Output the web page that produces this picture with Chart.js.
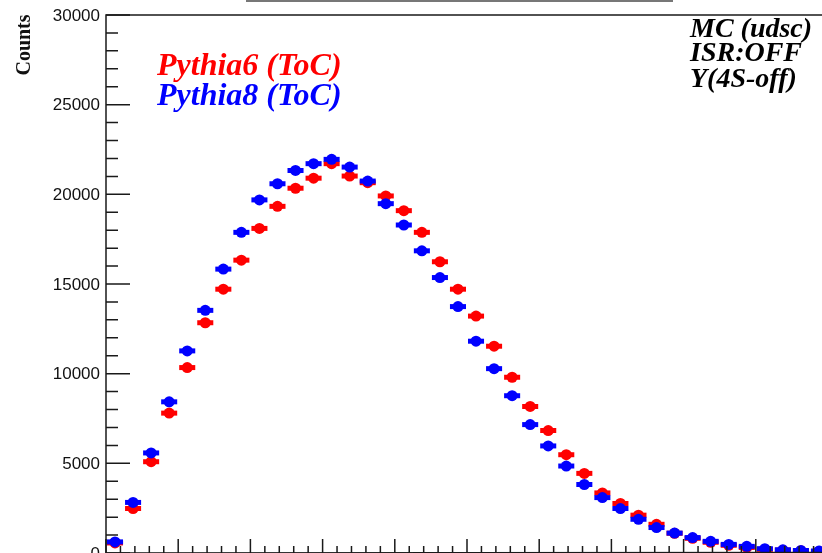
<!DOCTYPE html>
<html>
<head>
<meta charset="utf-8">
<script src="https://cdn.jsdelivr.net/npm/chart.js@4.4.0/dist/chart.umd.min.js"></script>
<style>
  body { margin: 0; background: #fff; }
  #wrap { position: relative; width: 822px; height: 553px; }
</style>
</head>
<body>
<div id="wrap"><canvas id="mycanvas"></canvas></div>
<script>
// per-bin counts, 40 bins
var pythia6 = [560, 2480, 5090, 7800, 10340, 12840, 14710, 16330, 18100, 19330,
               20340, 20900, 21710, 21020, 20650, 19910, 19090, 17880, 16240, 14710,
               13210, 11530, 9800, 8170, 6830, 5480, 4440, 3350, 2760, 2110,
               1600, 1100, 820, 600, 430, 310, 200, 160, 120, 90];
var pythia8 = [620, 2820, 5580, 8430, 11270, 13530, 15830, 17880, 19690, 20590,
               21330, 21710, 21950, 21520, 20740, 19480, 18290, 16850, 15360, 13740,
               11810, 10280, 8770, 7160, 5970, 4850, 3820, 3090, 2480, 1880,
               1420, 1110, 860, 650, 480, 370, 240, 180, 140, 110];
var yTicks = [0, 5000, 10000, 15000, 20000, 25000, 30000];
var yTickLabels = ['0', '5000', '10000', '15000', '20000', '25000', '30000'];
var legendLabels = ['Pythia6 (ToC)', 'Pythia8 (ToC)'];
var infoLines = ['MC (udsc)', 'ISR:OFF', 'Y(4S-off)'];

function toPoints(arr) {
    var pts = [];
    for (var i in arr) {
        pts.push({ x: Number(i) + 0.5, y: arr[i] });
    }
    return pts;
}

// horizontal bin-width bars under each marker
var binBars = {
    id: 'binBars',
    beforeDatasetDraw: function (chart, args) {
        var ctx = chart.ctx;
        var ds = chart.data.datasets[args.index];
        var xs = chart.scales.x, ys = chart.scales.y;
        ctx.save();
        ctx.beginPath();
        ctx.rect(chart.chartArea.left, 0, chart.chartArea.right - chart.chartArea.left, chart.height);
        ctx.clip();
        ctx.strokeStyle = ds.borderColor;
        ctx.lineWidth = 5;
        ds.data.forEach(function (p) {
            var y = ys.getPixelForValue(p.y);
            ctx.beginPath();
            ctx.moveTo(xs.getPixelForValue(p.x - 0.5) + 1, y);
            ctx.lineTo(xs.getPixelForValue(p.x + 0.5) - 1, y);
            ctx.stroke();
        });
        ctx.restore();
    }
};

// frame, inward ticks and all text
var frame = {
    id: 'frame',
    afterDraw: function (chart) {
        var ctx = chart.ctx;
        var a = chart.chartArea;
        var xs = chart.scales.x, ys = chart.scales.y;
        ctx.save();
        ctx.strokeStyle = '#1a1a1a';
        ctx.lineWidth = 1.5;
        ctx.beginPath();
        ctx.moveTo(a.right + 2, a.top);
        ctx.lineTo(a.left, a.top);
        ctx.lineTo(a.left, a.bottom);
        ctx.lineTo(a.right + 2, a.bottom - 0.5);
        ctx.stroke();

        // y ticks: major every 5000, minor every 1000
        ctx.beginPath();
        for (var v = 0; v <= 30000; v += 1000) {
            var py = ys.getPixelForValue(v);
            var len = (v % 5000 === 0) ? 24 : 12;
            ctx.moveTo(a.left, py);
            ctx.lineTo(a.left + len, py);
        }
        // x ticks: major every 4 bins, 5 subdivisions
        for (var k = 0; k * 0.8 <= xs.max; k++) {
            var px = xs.getPixelForValue(k * 0.8);
            var h = (k % 5 === 0) ? 14 : 7;
            ctx.moveTo(px, a.bottom);
            ctx.lineTo(px, a.bottom - h);
        }
        ctx.stroke();

        // title box edge at the top
        ctx.strokeStyle = '#777';
        ctx.lineWidth = 2;
        ctx.beginPath();
        ctx.moveTo(246, 1);
        ctx.lineTo(673, 1);
        ctx.stroke();

        ctx.fillStyle = '#111';
        ctx.font = '17px "Liberation Sans", Arial, sans-serif';
        ctx.textAlign = 'right';
        ctx.textBaseline = 'middle';
        yTicks.forEach(function (t, i) {
            ctx.fillText(yTickLabels[i], a.left - 6, ys.getPixelForValue(t) + 1);
        });

        ctx.save();
        ctx.translate(30, 45);
        ctx.rotate(-Math.PI / 2);
        ctx.textAlign = 'center';
        ctx.textBaseline = 'alphabetic';
        ctx.font = 'bold 20px "Liberation Serif", "Times New Roman", serif';
        ctx.fillText('Counts', 0, 0);
        ctx.restore();

        ctx.textAlign = 'left';
        ctx.textBaseline = 'alphabetic';
        ctx.font = 'italic bold 32px "Liberation Serif", "Times New Roman", serif';
        ctx.fillStyle = '#ff0000';
        ctx.fillText(legendLabels[0], 157, 75);
        ctx.fillStyle = '#0000ff';
        ctx.fillText(legendLabels[1], 157, 105);

        ctx.fillStyle = '#000';
        ctx.font = 'italic bold 28px "Liberation Serif", "Times New Roman", serif';
        ctx.fillText(infoLines[0], 690, 37);
        ctx.fillText(infoLines[1], 690, 61);
        ctx.fillText(infoLines[2], 690, 87);
        ctx.restore();
    }
};

var ctx = document.getElementById('mycanvas');

var chart = new Chart(ctx, {
    type: 'scatter',
    data: {
        datasets: [{
            label: legendLabels[1],
            data: toPoints(pythia8),
            backgroundColor: '#0000ff',
            borderColor: '#0000ff',
            pointRadius: 5.5,
            pointBorderWidth: 0,
            order: 0
        }, {
            label: legendLabels[0],
            data: toPoints(pythia6),
            backgroundColor: '#ff0000',
            borderColor: '#ff0000',
            pointRadius: 5.5,
            pointBorderWidth: 0,
            order: 1
        }]
    },
    options: {
        responsive: true,
        maintainAspectRatio: false,
        animation: false,
        layout: { autoPadding: false, padding: { left: 106, top: 15, right: 0, bottom: 0 } },
        plugins: { legend: { display: false }, tooltip: { enabled: false } },
        scales: {
            x: { type: 'linear', display: false, min: 0, max: 716 / 18.05 },
            y: { display: false, min: 0, max: 30000 }
        }
    },
    plugins: [binBars, frame]
});
</script>
</body>
</html>
